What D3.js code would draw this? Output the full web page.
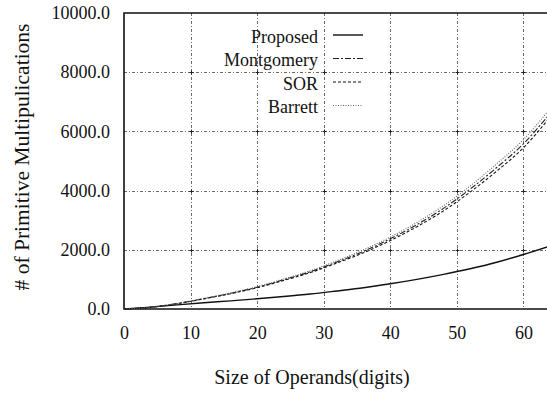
<!DOCTYPE html>
<html>
<head>
<meta charset="utf-8">
<script src="https://cdn.jsdelivr.net/npm/d3@7"></script>
<style>
  html, body { margin: 0; padding: 0; background: #fff; }
  svg { display: block; }
</style>
</head>
<body>
<svg id="chart" width="547" height="410"></svg>
<script>
// Operand size (digits)
const digits = [0, 4, 8, 12, 16, 20, 24, 28, 32, 36, 40, 44, 48, 52, 56, 60, 64];
// Primitive multiplication counts per method
const proposed    = [0, 65, 140, 210, 275, 345, 420, 505, 610, 720, 851, 1000, 1170, 1360, 1580, 1841, 2130];
const montgomery  = [0, 60, 185, 350, 530, 736, 990, 1260, 1590, 1950, 2370, 2850, 3400, 4050, 4780, 5580, 6600];
const sor         = [0, 58, 180, 342, 517, 718, 965, 1230, 1552, 1902, 2312, 2780, 3315, 3950, 4660, 5445, 6480];
const barrett     = [0, 62, 190, 358, 543, 755, 1015, 1292, 1630, 2000, 2430, 2925, 3490, 4155, 4905, 5720, 6770];

const seriesNames = ["Proposed", "Montgomery", "SOR", "Barrett"];
const xTicks = [0, 10, 20, 30, 40, 50, 60];
const yTicks = [0, 2000, 4000, 6000, 8000, 10000];

const serif = "Liberation Serif";
const svg = d3.select("#chart");
const plotL = 124, plotR = 550, plotT = 13, plotB = 309;

const x = d3.scaleLinear().domain([0, 64]).range([plotL, plotR]);
const y = d3.scaleLinear().domain([0, 10000]).range([plotB, plotT]);

// grid lines
const grid = svg.append("g").attr("stroke", "#6a6a6a").attr("stroke-width", 1)
  .attr("stroke-dasharray", "3,2,1,2").attr("fill", "none");
grid.selectAll("line.v").data(xTicks.filter(d => d > 0)).join("line")
  .attr("class", "v")
  .attr("x1", d => Math.round(x(d)) + 0.5).attr("x2", d => Math.round(x(d)) + 0.5)
  .attr("y1", plotT).attr("y2", plotB);
grid.selectAll("line.h").data(yTicks.filter(d => d > 0 && d < 10000)).join("line")
  .attr("class", "h")
  .attr("x1", plotL).attr("x2", plotR)
  .attr("y1", d => Math.round(y(d)) + 0.5).attr("y2", d => Math.round(y(d)) + 0.5);

// small crosses at grid intersections
const cross = [];
xTicks.filter(d => d > 0).forEach(a => yTicks.filter(b => b > 0 && b < 10000).forEach(b => cross.push([a, b])));
svg.append("g").attr("stroke", "#222").attr("stroke-width", 1)
  .selectAll("path").data(cross).join("path")
  .attr("d", d => {
    const cx = Math.round(x(d[0])) + 0.5, cy = Math.round(y(d[1])) + 0.5;
    return `M${cx-2},${cy}H${cx+2}M${cx},${cy-2}V${cy+2}`;
  });

// frame
svg.append("path")
  .attr("d", `M${plotR},${plotT}H${plotL}V${plotB}H${plotR}`)
  .attr("fill", "none").attr("stroke", "#111").attr("stroke-width", 1.6);

// axis labels via d3 axes
const xAxis = d3.axisBottom(x).tickValues(xTicks).tickFormat(d3.format("d")).tickSize(0).tickPadding(17);
const gx = svg.append("g").attr("transform", `translate(0,${plotB})`).call(xAxis)
  .attr("font-family", serif).attr("font-size", 18);
gx.select(".domain").remove();
gx.selectAll("text").attr("fill", "#111");

const yAxis = d3.axisLeft(y).tickValues(yTicks).tickFormat(d3.format(".1f")).tickSize(0).tickPadding(14);
const gy = svg.append("g").attr("transform", `translate(${plotL},0)`).call(yAxis)
  .attr("font-family", serif).attr("font-size", 18);
gy.select(".domain").remove();
gy.selectAll("text").attr("fill", "#111");

// series lines
const styles = [
  { data: proposed,   color: "#111", dash: null,        width: 1.4 },
  { data: montgomery, color: "#222", dash: "6,2,2,2",   width: 1.1 },
  { data: sor,        color: "#111", dash: "3,2",       width: 1.1 },
  { data: barrett,    color: "#666", dash: "1,1.5",     width: 1.1 }
];
const line = d3.line().x((d, i) => x(digits[i])).y(d => y(d)).curve(d3.curveMonotoneX);
svg.append("g").attr("fill", "none")
  .selectAll("path").data(styles).join("path")
  .attr("d", s => line(s.data))
  .attr("stroke", s => s.color)
  .attr("stroke-width", s => s.width)
  .attr("stroke-dasharray", s => s.dash);

// legend
const leg = svg.append("g").attr("font-family", serif).attr("font-size", 18).attr("fill", "#111");
seriesNames.forEach((name, i) => {
  const ly = 37 + i * 23.5;
  leg.append("text").attr("x", 318).attr("y", ly).attr("dy", "0.32em")
    .attr("text-anchor", "end").text(name);
  leg.append("line").attr("x1", 333).attr("x2", 363).attr("y1", ly - 2).attr("y2", ly - 2)
    .attr("stroke", styles[i].color).attr("stroke-width", styles[i].width)
    .attr("stroke-dasharray", styles[i].dash);
});

// axis titles
svg.append("text").attr("x", 312).attr("y", 384).attr("text-anchor", "middle")
  .attr("font-family", serif).attr("font-size", 20).attr("fill", "#111")
  .text("Size of Operands(digits)");
svg.append("text").attr("transform", "translate(29,157) rotate(-90)")
  .attr("text-anchor", "middle").attr("font-family", serif).attr("font-size", 21.5).attr("fill", "#111")
  .text("# of Primitive Multipulications");
</script>
</body>
</html>
